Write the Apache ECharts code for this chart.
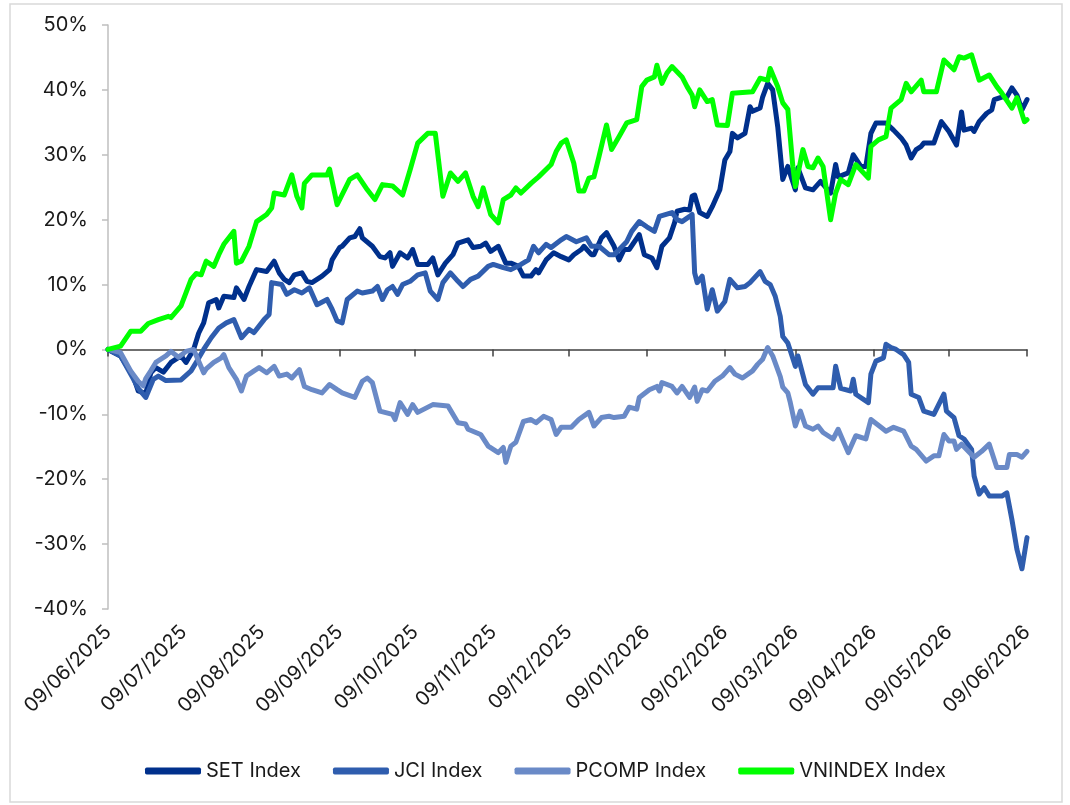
<!DOCTYPE html>
<html lang="en">
<head>
    <meta charset="utf-8" />
    <title>Index performance</title>
    <script src="https://cdn.jsdelivr.net/npm/echarts@6.0.0/dist/echarts.min.js"></script>
    <style>
        html, body { margin: 0; padding: 0; background: #fff; }
        #chart { width: 1070px; height: 805px; }
    </style>
</head>
<body>
    <div id="chart"></div>
    <script>
        // days counted from 09/06/2025, values in %
        var setDays = [0, 5, 10, 12, 15, 17, 19, 22, 25, 29, 31, 34, 36, 38, 40, 43, 44, 46, 50, 51, 54, 56, 59, 63, 66, 68, 70, 72, 74, 77, 79, 81, 85, 88, 89, 92, 93, 96, 98, 100, 101, 105, 108, 110, 112, 113, 116, 119, 121, 123, 127, 129, 131, 134, 137, 139, 143, 145, 148, 150, 152, 155, 158, 160, 163, 165, 168, 170, 171, 174, 177, 180, 183, 185, 188, 189, 192, 193, 196, 198, 201, 203, 205, 207, 211, 213, 216, 218, 220, 223, 225, 226, 229, 231, 232, 233, 235, 238, 240, 243, 245, 247, 248, 250, 253, 255, 256, 259, 260, 262, 264, 266, 268, 270, 273, 274, 277, 280, 283, 287, 289, 290, 294, 296, 299, 301, 303, 305, 309, 312, 315, 317, 319, 321, 323, 324, 328, 331, 334, 337, 339, 340, 343, 344, 346, 349, 351, 352, 355, 357, 359, 361, 363, 365];
        var setVals = [0, -1.0, -4.1, -6.4, -6.8, -3.6, -2.8, -3.5, -2.0, -1.0, -2.0, 0.0, 2.5, 4.1, 7.2, 7.7, 6.4, 8.2, 8.0, 9.5, 7.7, 9.7, 12.3, 12.0, 13.6, 11.8, 10.8, 10.3, 11.5, 11.8, 10.5, 10.3, 11.3, 12.3, 13.8, 15.7, 15.9, 17.2, 17.4, 18.6, 17.2, 15.9, 14.3, 14.1, 14.9, 12.8, 14.9, 14.1, 15.4, 13.1, 13.1, 14.1, 11.5, 13.3, 14.6, 16.4, 16.9, 15.7, 15.9, 16.4, 15.1, 15.9, 13.3, 13.3, 12.8, 11.3, 11.3, 12.3, 11.8, 13.8, 14.9, 14.3, 13.8, 14.6, 15.4, 15.9, 14.6, 14.6, 17.2, 18.0, 15.9, 13.8, 15.4, 15.4, 17.7, 14.6, 14.1, 12.6, 15.9, 17.2, 19.5, 21.3, 21.6, 21.5, 23.6, 23.8, 21.1, 20.5, 22.0, 24.6, 29.2, 30.5, 33.3, 32.6, 33.3, 37.4, 36.7, 37.2, 38.9, 41.0, 40.0, 34.3, 26.2, 28.2, 24.6, 28.0, 24.9, 24.6, 25.9, 24.1, 28.5, 26.6, 27.2, 30.0, 28.2, 28.2, 33.3, 34.9, 34.9, 33.8, 32.6, 31.5, 29.5, 30.8, 31.3, 31.8, 31.8, 35.1, 33.6, 31.5, 36.6, 33.8, 34.1, 33.6, 35.1, 36.4, 36.9, 38.5, 38.9, 38.9, 40.3, 39.2, 36.9, 38.5];

        var jciDays = [0, 5, 10, 12, 15, 18, 20, 23, 29, 33, 35, 38, 41, 44, 47, 50, 53, 56, 58, 62, 64, 65, 69, 71, 74, 77, 80, 83, 87, 89, 91, 93, 95, 99, 101, 105, 107, 109, 111, 113, 115, 117, 120, 123, 126, 128, 131, 133, 136, 139, 141, 144, 147, 151, 153, 157, 160, 164, 167, 169, 171, 174, 176, 180, 182, 183, 186, 190, 192, 195, 199, 201, 206, 208, 211, 214, 217, 219, 224, 226, 228, 231, 232, 233, 234, 236, 238, 240, 242, 245, 247, 250, 253, 255, 259, 261, 263, 265, 267, 268, 270, 273, 274, 277, 280, 282, 288, 289, 291, 295, 296, 297, 302, 303, 305, 308, 309, 311, 313, 316, 318, 319, 322, 324, 328, 332, 333, 336, 338, 340, 343, 344, 346, 348, 350, 355, 357, 359, 361, 363, 365];
        var jciVals = [0, -1.0, -4.5, -6.0, -7.4, -4.6, -4.1, -4.8, -4.7, -3.3, -2.0, 0.0, 1.8, 3.3, 4.1, 4.6, 1.8, 3.1, 2.6, 4.6, 5.4, 10.3, 10.0, 8.5, 9.2, 8.7, 9.5, 6.9, 7.7, 6.2, 4.4, 4.1, 7.7, 9.0, 8.7, 9.0, 9.7, 7.7, 9.2, 9.7, 8.5, 10.0, 10.5, 11.5, 11.8, 9.0, 7.7, 10.3, 11.8, 10.5, 9.7, 10.8, 11.3, 12.8, 13.1, 12.6, 12.3, 13.1, 13.8, 15.9, 14.9, 16.2, 15.7, 16.9, 17.4, 17.2, 16.6, 17.2, 15.9, 15.9, 14.6, 14.6, 16.6, 18.2, 19.7, 18.9, 18.2, 20.5, 21.1, 20.0, 19.7, 20.5, 20.8, 11.8, 10.3, 11.3, 6.2, 9.2, 5.9, 7.4, 10.8, 9.5, 9.7, 10.3, 12.0, 10.5, 10.0, 8.2, 5.1, 2.0, 1.0, -2.6, -1.0, -5.4, -6.9, -5.9, -5.9, -2.6, -6.0, -6.4, -4.6, -6.9, -8.2, -3.8, -1.8, -1.3, 0.8, 0.3, 0.0, -0.8, -2.0, -6.9, -7.4, -9.5, -10.0, -6.9, -9.5, -10.5, -13.3, -13.8, -15.4, -19.5, -22.3, -21.3, -22.6, -22.6, -22.1, -26.2, -30.8, -33.8, -29.0];

        var pcompDays = [0, 5, 9, 12, 14, 15, 17, 19, 23, 25, 28, 31, 34, 38, 39, 42, 45, 46, 48, 51, 53, 55, 58, 60, 63, 66, 68, 71, 73, 76, 78, 81, 85, 88, 91, 93, 98, 101, 103, 105, 108, 113, 114, 116, 119, 121, 123, 129, 135, 139, 142, 143, 148, 151, 155, 157, 158, 160, 162, 165, 168, 170, 173, 176, 178, 180, 184, 187, 191, 193, 196, 199, 201, 205, 207, 210, 211, 215, 218, 219, 220, 224, 226, 228, 231, 233, 234, 236, 238, 241, 244, 247, 249, 252, 256, 258, 260, 262, 264, 267, 268, 270, 271, 273, 275, 277, 280, 282, 284, 288, 290, 294, 297, 301, 303, 307, 309, 312, 316, 319, 321, 325, 328, 330, 332, 334, 336, 337, 339, 344, 347, 350, 353, 357, 358, 361, 363, 365];
        var pcompVals = [0, -0.5, -3.3, -4.9, -5.6, -4.5, -3.3, -2.0, -1.0, -0.3, -1.2, -0.3, 0.0, -3.6, -3.0, -2.0, -1.3, -0.8, -2.8, -4.6, -6.4, -4.1, -3.3, -2.8, -3.6, -2.6, -4.1, -3.8, -4.4, -3.1, -5.7, -6.2, -6.7, -5.4, -6.2, -6.7, -7.4, -4.9, -4.4, -5.1, -9.5, -10.0, -10.8, -8.2, -10.0, -8.5, -9.7, -8.5, -8.7, -11.3, -11.5, -12.3, -13.1, -14.9, -15.9, -15.1, -17.4, -14.9, -14.3, -11.1, -10.8, -11.3, -10.3, -10.8, -13.1, -12.0, -12.0, -10.8, -9.7, -11.8, -10.5, -10.3, -10.5, -10.3, -8.9, -9.2, -7.4, -6.2, -5.7, -6.4, -5.1, -5.7, -6.7, -5.7, -7.4, -5.8, -8.0, -6.2, -6.4, -4.9, -4.1, -2.8, -3.8, -4.4, -3.3, -2.3, -1.5, 0.3, -1.0, -4.2, -5.8, -6.7, -8.2, -11.8, -9.5, -11.8, -12.3, -11.8, -12.8, -13.8, -12.3, -15.9, -13.3, -13.8, -10.8, -12.0, -12.6, -12.0, -12.6, -14.9, -15.4, -17.2, -16.4, -16.4, -13.1, -14.1, -14.1, -15.4, -14.6, -16.6, -15.7, -14.6, -18.2, -18.2, -16.2, -16.2, -16.6, -15.7];

        var vnDays = [0, 5, 9, 13, 16, 20, 24, 25, 29, 33, 35, 37, 39, 42, 44, 46, 50, 51, 53, 56, 59, 63, 65, 66, 70, 73, 75, 77, 78, 81, 87, 88, 91, 96, 99, 103, 106, 109, 113, 117, 120, 123, 127, 130, 133, 136, 139, 142, 145, 147, 149, 152, 155, 157, 160, 162, 164, 168, 171, 176, 178, 180, 182, 185, 187, 189, 191, 193, 195, 198, 200, 203, 206, 210, 212, 214, 217, 218, 220, 222, 224, 228, 230, 232, 233, 235, 238, 240, 242, 246, 248, 256, 259, 262, 263, 266, 268, 270, 272, 273, 276, 278, 280, 282, 284, 287, 289, 291, 294, 297, 302, 303, 306, 309, 311, 315, 317, 319, 323, 324, 329, 332, 336, 338, 340, 343, 346, 350, 353, 355, 359, 361, 364, 365];
        var vnVals = [0, 0.5, 2.8, 2.8, 4.0, 4.6, 5.1, 4.9, 6.7, 10.8, 11.7, 11.5, 13.6, 12.8, 14.6, 16.2, 18.2, 13.3, 13.6, 15.9, 19.7, 20.8, 21.8, 24.1, 23.8, 26.9, 23.6, 21.8, 25.6, 26.9, 26.9, 27.8, 22.3, 26.2, 26.9, 24.6, 23.1, 25.4, 25.2, 23.8, 27.7, 31.8, 33.3, 33.3, 23.6, 27.2, 25.9, 27.2, 23.6, 22.0, 24.9, 20.8, 19.5, 23.1, 23.8, 24.9, 24.1, 25.6, 26.6, 28.5, 30.5, 31.8, 32.3, 28.7, 24.4, 24.4, 26.4, 26.6, 29.7, 34.6, 30.8, 32.8, 34.9, 35.4, 40.5, 41.5, 42.0, 43.8, 41.0, 42.6, 43.6, 42.0, 40.5, 39.2, 37.4, 40.0, 38.2, 38.5, 34.6, 34.5, 39.5, 39.7, 41.8, 41.5, 43.3, 40.5, 38.0, 37.0, 28.2, 25.1, 30.8, 28.2, 28.0, 29.5, 28.2, 20.0, 24.1, 26.2, 25.4, 28.5, 26.4, 31.3, 32.3, 32.8, 37.2, 38.5, 41.0, 39.7, 41.5, 39.7, 39.7, 44.6, 43.1, 45.1, 44.9, 45.4, 41.5, 42.3, 40.5, 39.5, 37.2, 38.8, 35.1, 35.4];

        var seriesNames = ['SET Index', 'JCI Index', 'PCOMP Index', 'VNINDEX Index'];
        var seriesColors = ['#00308C', '#2F5DAE', '#6A8AC7', '#00FF00'];
        var yTicks = [-40, -30, -20, -10, 0, 10, 20, 30, 40, 50];

        var startTime = Date.UTC(2025, 5, 9);
        var dayMs = 86400000;

        function pairs(days, vals) {
            var out = [];
            for (var i = 0; i < days.length; i++) {
                out.push([days[i], vals[i]]);
            }
            return out;
        }
        function pad(n) {
            return n < 10 ? '0' + n : '' + n;
        }
        function dayLabel(v) {
            var d = new Date(startTime + Math.round(v) * dayMs);
            return pad(d.getUTCDate()) + '/' + pad(d.getUTCMonth() + 1) + '/' + d.getUTCFullYear();
        }

        // ticks on the 9th of every month
        var monthTicks = [];
        for (var m = 0; m <= 12; m++) {
            monthTicks.push(Math.round((Date.UTC(2025, 5 + m, 9) - startTime) / dayMs));
        }

        var allData = [
            pairs(setDays, setVals),
            pairs(jciDays, jciVals),
            pairs(pcompDays, pcompVals),
            pairs(vnDays, vnVals)
        ];

        var series = [];
        for (var i = 0; i < seriesNames.length; i++) {
            series.push({
                name: seriesNames[i],
                type: 'line',
                xAxisIndex: 0,
                data: allData[i],
                showSymbol: false,
                symbol: 'none',
                lineStyle: { width: 5, color: seriesColors[i], join: 'round', cap: 'round' },
                itemStyle: { color: seriesColors[i] }
            });
        }

        var font = 'Inter, "Noto Sans", sans-serif';
        var chart = echarts.init(document.getElementById('chart'));
        var option = {
            animation: false,
            textStyle: { fontFamily: font },
            graphic: [{
                type: 'rect',
                shape: { x: 10, y: 4, width: 1052, height: 798 },
                style: { fill: 'none', stroke: '#d9d9d9', lineWidth: 1.5 },
                silent: true
            }],
            grid: { left: 108, right: 43, top: 25, bottom: 196 },
            legend: {
                bottom: 19,
                left: 140,
                icon: 'roundRect',
                itemWidth: 56,
                itemHeight: 7,
                itemGap: 32,
                textStyle: { fontSize: 20, color: '#1a1a1a', fontFamily: font },
                data: seriesNames
            },
            xAxis: [{
                type: 'value',
                min: 0,
                max: monthTicks[12],
                axisLine: { onZero: true, lineStyle: { color: '#404040', width: 1.5 } },
                axisTick: { show: true, customValues: monthTicks, length: 7, lineStyle: { color: '#404040', width: 1.5 } },
                axisLabel: { show: false },
                splitLine: { show: false }
            }, {
                type: 'value',
                position: 'bottom',
                min: 0,
                max: monthTicks[12],
                axisLine: { show: false, onZero: false },
                axisTick: { show: false },
                splitLine: { show: false },
                axisLabel: {
                    customValues: monthTicks,
                    rotate: 45,
                    margin: 20,
                    fontSize: 20,
                    color: '#1a1a1a',
                    fontFamily: font,
                    formatter: dayLabel
                }
            }],
            yAxis: {
                type: 'value',
                min: yTicks[0],
                max: yTicks[yTicks.length - 1],
                interval: 10,
                axisLine: { show: true, lineStyle: { color: '#bfbfbf', width: 1.5 } },
                axisTick: { show: true, length: 6, lineStyle: { color: '#bfbfbf', width: 1.5 } },
                axisLabel: { fontSize: 20, color: '#1a1a1a', margin: 20, formatter: '{value}%', fontFamily: font },
                splitLine: { show: false }
            },
            series: series
        };
        chart.setOption(option);
    </script>
</body>
</html>
